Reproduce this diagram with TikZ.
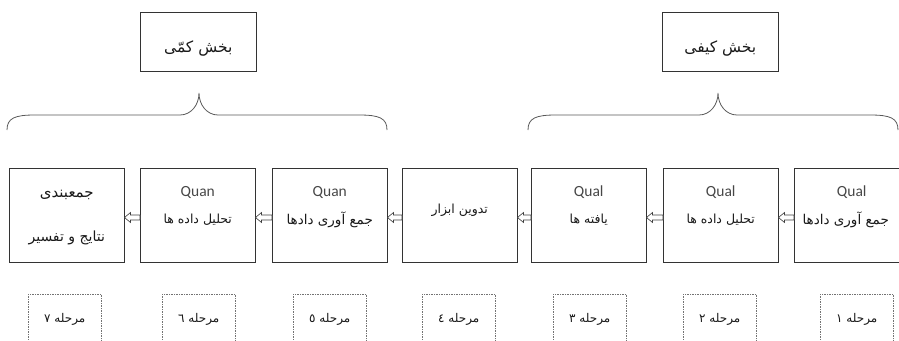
\documentclass[tikz,border=0pt]{standalone}
\usepackage{fontspec}
\usetikzlibrary{calc}
\TeXXeTstate=1
\newfontfamily\fafont[Script=Arabic]{DejaVu Sans}
\newfontfamily\latfont{Carlito}
\newcommand\fa[1]{{\fafont\beginR #1\endR}}
\newcommand\fsz[1]{\fontsize{#1}{#1}\selectfont}

\tikzset{
  stagebox/.style={draw=black!80, line width=1pt, minimum width=114.5pt,
    minimum height=94pt, inner sep=0pt, anchor=north west},
  stepbox/.style={draw=black!55, dashed, dash pattern=on 1.5pt off 1pt,
    line width=0.5pt, minimum width=73pt, minimum height=52pt, inner sep=0pt,
    anchor=north west},
  partbox/.style={draw=black!80, line width=1pt, minimum width=115.5pt,
    minimum height=59pt, inner sep=0pt, anchor=north west},
  latlbl/.style={font=\latfont\fsz{15.5}, text=black!72, inner sep=0pt},
  falbl/.style={font=\fsz{12.5}, text=black!90, inner sep=0pt},
  bracepath/.style={draw=black!65, line width=0.8pt},
  blockarrow/.style={draw=black!75, line width=0.6pt, fill=white, line join=miter},
}

\begin{document}
\begin{tikzpicture}[x=1pt, y=-1pt]
\path[use as bounding box] (0,0) rectangle (899,340);
\clip (0,0) rectangle (899,340);

% top labels for the two parts
\node[partbox] (quant) at (140,12) {};
\node[partbox] (qual)  at (662,12) {};
\node[falbl, font=\fsz{15.5}] (quantT) at ($(quant.center)+(0,7)$) {\fa{بخش کمّی}};
\node[falbl, font=\fsz{15.5}] (qualT)  at ($(qual.center)+(0,7)$)  {\fa{بخش کیفی}};

% curly braces under the part labels
\coordinate (lbL) at (7,130);   \coordinate (lbT) at (199,93);  \coordinate (lbR) at (387,130);
\coordinate (rbL) at (528,130); \coordinate (rbT) at (718,93);  \coordinate (rbR) at (898,130);
\draw[bracepath] (lbL) .. controls ($(lbL)+(0,-12)$) and ($(lbL)+(8,-15)$) .. ($(lbL)+(28,-15)$)
  -- ($(lbT)+(-19,22)$) .. controls ($(lbT)+(-8,22)$) and ($(lbT)+(0,12)$) .. (lbT)
  .. controls ($(lbT)+(0,12)$) and ($(lbT)+(8,22)$) .. ($(lbT)+(19,22)$)
  -- ($(lbR)+(-28,-15)$) .. controls ($(lbR)+(-8,-15)$) and ($(lbR)+(0,-12)$) .. (lbR);
\draw[bracepath] (rbL) .. controls ($(rbL)+(0,-12)$) and ($(rbL)+(8,-15)$) .. ($(rbL)+(28,-15)$)
  -- ($(rbT)+(-19,22)$) .. controls ($(rbT)+(-8,22)$) and ($(rbT)+(0,12)$) .. (rbT)
  .. controls ($(rbT)+(0,12)$) and ($(rbT)+(8,22)$) .. ($(rbT)+(19,22)$)
  -- ($(rbR)+(-28,-15)$) .. controls ($(rbR)+(-8,-15)$) and ($(rbR)+(0,-12)$) .. (rbR);

% the seven stages
\node[stagebox] (s1) at (794,168) {};
\node[stagebox] (s2) at (663,168) {};
\node[stagebox] (s3) at (531,168) {};
\node[stagebox] (s4) at (402,168) {};
\node[stagebox] (s5) at (272,168) {};
\node[stagebox] (s6) at (140,168) {};
\node[stagebox] (s7) at (9,168)   {};

\node[latlbl] (s1a) at ($(s1.north)+(0,24)$) {Qual};
\node[falbl, font=\fsz{13.5}] (s1b) at ($(s1.north)+(-6,52)$) {\fa{جمع آوری دادها}};
\node[latlbl] (s2a) at ($(s2.north)+(0,24)$) {Qual};
\node[falbl]  (s2b) at ($(s2.north)+(0,52)$) {\fa{تحلیل داده ها}};
\node[latlbl] (s3a) at ($(s3.north)+(0,24)$) {Qual};
\node[falbl]  (s3b) at ($(s3.north)+(0,52)$) {\fa{یافته ها}};
\node[falbl]  (s4a) at ($(s4.north)+(0,42)$) {\fa{تدوین ابزار}};
\node[latlbl] (s5a) at ($(s5.north)+(0,24)$) {Quan};
\node[falbl, font=\fsz{13.5}] (s5b) at ($(s5.north)+(0,52)$) {\fa{جمع آوری دادها}};
\node[latlbl] (s6a) at ($(s6.north)+(0,24)$) {Quan};
\node[falbl]  (s6b) at ($(s6.north)+(0,52)$) {\fa{تحلیل داده ها}};
\node[falbl, font=\fsz{15}] (s7a) at ($(s7.north)+(0,27)$) {\fa{جمعبندی}};
\node[falbl, font=\fsz{14}] (s7b) at ($(s7.north)+(0,70)$) {\fa{نتایج و تفسیر}};

% hollow block arrows from each stage to the next one on its left
\foreach \r/\l in {s1/s2, s2/s3, s3/s4, s4/s5, s5/s6, s6/s7} {
  \draw[blockarrow] ($(\l.east)+(0,2)$) -- ($(\l.east)+(6,-3)$) -- ($(\l.east)+(6,-0.5)$)
    -- ($(\r.west)+(0,-0.5)$) -- ($(\r.west)+(0,4.5)$) -- ($(\l.east)+(6,4.5)$)
    -- ($(\l.east)+(6,7)$) -- cycle;
}

% stage numbers
\node[stepbox] (m1) at (820,294) {};
\node[stepbox] (m2) at (683,294) {};
\node[stepbox] (m3) at (553,294) {};
\node[stepbox] (m4) at (422,294) {};
\node[stepbox] (m5) at (293,294) {};
\node[stepbox] (m6) at (162,294) {};
\node[stepbox] (m7) at (28,294)  {};
\foreach \i/\d in {1/١, 2/٢, 3/٣, 4/٤, 5/٥, 6/٦, 7/٧} {
  \node[falbl, font=\fsz{12}] (m\i t) at ($(m\i.center)+(0,-1)$) {\fa{مرحله \d}};
}
\end{tikzpicture}
\end{document}
